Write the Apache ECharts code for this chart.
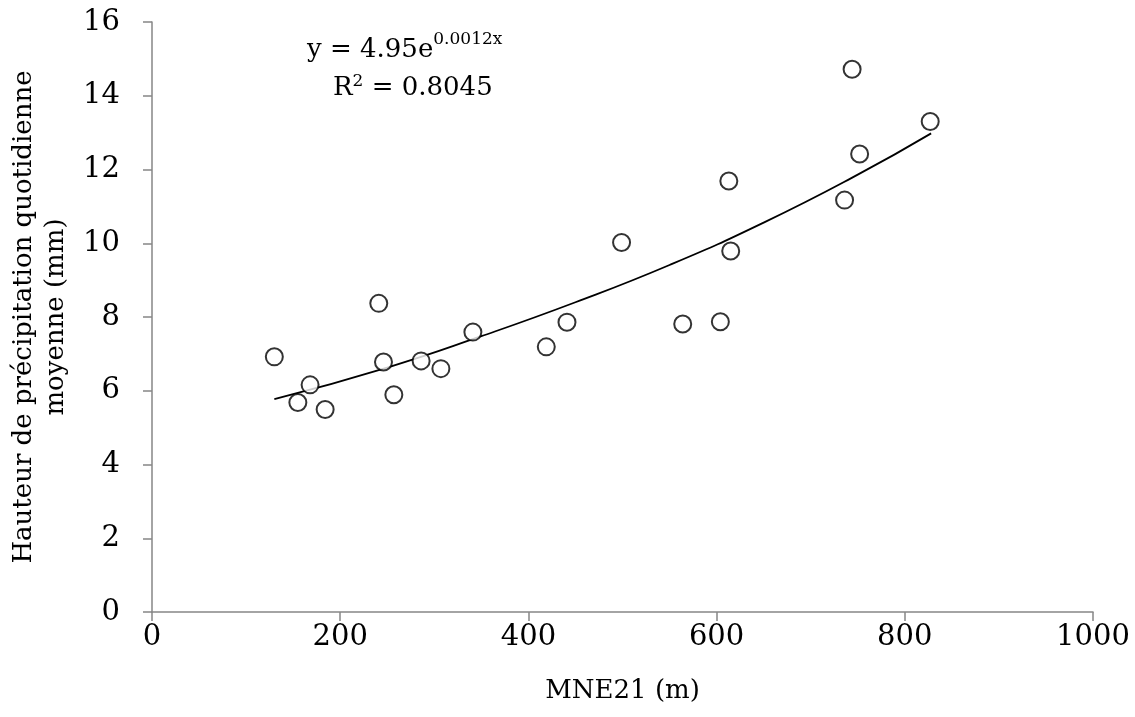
<!DOCTYPE html>
<html>
<head>
<meta charset="utf-8">
<script src="https://cdn.jsdelivr.net/npm/echarts@6/dist/echarts.min.js"></script>
<style>
html,body{margin:0;padding:0;background:#fff;}
#chart{width:1135px;height:717px;}
</style>
</head>
<body>
<div id="chart"></div>
<script>
// Observed stations: elevation MNE21 (m) and mean daily precipitation (mm)
const elevation = [130, 155, 168, 184, 241, 246, 257, 286, 307, 341, 419, 441, 499, 564, 604, 613, 615, 736, 744, 752, 827];
const precipitation = [6.92, 5.68, 6.16, 5.49, 8.37, 6.78, 5.89, 6.81, 6.60, 7.59, 7.19, 7.86, 10.02, 7.81, 7.87, 11.69, 9.79, 11.17, 14.72, 12.42, 13.30];

// Exponential trend line at a few x positions
const trendX = [130, 250, 350, 450, 550, 650, 750, 828];
const trendY = [5.77, 6.63, 7.48, 8.40, 9.41, 10.56, 11.86, 12.98];

const xTicks = [0, 200, 400, 600, 800, 1000];
const yTicks = [0, 2, 4, 6, 8, 10, 12, 14, 16];

const equationText = 'y = 4.95e';
const equationExp = '0.0012x';
const r2Label = 'R';
const r2Value = ' = 0.8045';

const FONT = 'DejaVu Serif';
const AXIS_COLOR = '#868686';

const chart = echarts.init(document.getElementById('chart'), null, {renderer: 'canvas'});

chart.setOption({
  animation: false,
  backgroundColor: '#ffffff',
  grid: {left: 152, right: 42, top: 22, bottom: 105, containLabel: false, outerBoundsMode: 'none'},
  xAxis: {
    type: 'value',
    min: xTicks[0],
    max: xTicks[xTicks.length - 1],
    interval: 200,
    name: 'MNE21 (m)',
    nameLocation: 'middle',
    nameGap: 66,
    nameTextStyle: {fontFamily: FONT, fontSize: 26, color: '#000'},
    axisLine: {show: true, onZero: false, lineStyle: {color: AXIS_COLOR, width: 1.5}},
    axisTick: {show: true, inside: false, length: 9, lineStyle: {color: AXIS_COLOR, width: 1.5}},
    axisLabel: {fontFamily: FONT, fontSize: 29, color: '#000', margin: 11, formatter: v => String(v)},
    splitLine: {show: false}
  },
  yAxis: {
    type: 'value',
    min: yTicks[0],
    max: yTicks[yTicks.length - 1],
    interval: 2,
    name: 'Hauteur de précipitation quotidienne\nmoyenne (mm)',
    nameLocation: 'middle',
    nameGap: 80,
    nameRotate: 90,
    nameTextStyle: {fontFamily: FONT, fontSize: 26, color: '#000', lineHeight: 32},
    axisLine: {show: true, onZero: false, lineStyle: {color: AXIS_COLOR, width: 1.5}},
    axisTick: {show: true, inside: false, length: 9, lineStyle: {color: AXIS_COLOR, width: 1.5}},
    axisLabel: {fontFamily: FONT, fontSize: 29, color: '#000', margin: 32, formatter: v => String(v)},
    splitLine: {show: false}
  },
  series: [
    {
      type: 'line',
      data: trendX.map((x, i) => [x, trendY[i]]),
      smooth: true,
      showSymbol: false,
      symbol: 'none',
      lineStyle: {color: '#000', width: 1.8},
      z: 2
    },
    {
      type: 'scatter',
      data: elevation.map((x, i) => [x, precipitation[i]]),
      symbol: 'circle',
      symbolSize: 17,
      itemStyle: {color: '#ffffff', borderColor: '#000', borderWidth: 2},
      z: 3
    }
  ],
  graphic: [
    {
      type: 'text',
      left: 307,
      top: 31,
      style: {
        rich: {
          m: {fontFamily: FONT, fontSize: 26, fill: '#000', verticalAlign: 'bottom', lineHeight: 32},
          s: {fontFamily: FONT, fontSize: 17, fill: '#000', verticalAlign: 'top', lineHeight: 32, padding: [0, 0, 14, 0]}
        },
        text: '{m|' + equationText + '}{s|' + equationExp + '}'
      }
    },
    {
      type: 'text',
      left: 333,
      top: 73,
      style: {
        rich: {
          m: {fontFamily: FONT, fontSize: 26, fill: '#000', lineHeight: 32},
          s: {fontFamily: FONT, fontSize: 17, fill: '#000', lineHeight: 32, padding: [0, 0, 14, 0]}
        },
        text: '{m|' + r2Label + '}{s|2}{m|' + r2Value + '}'
      }
    }
  ]
});
</script>
</body>
</html>
